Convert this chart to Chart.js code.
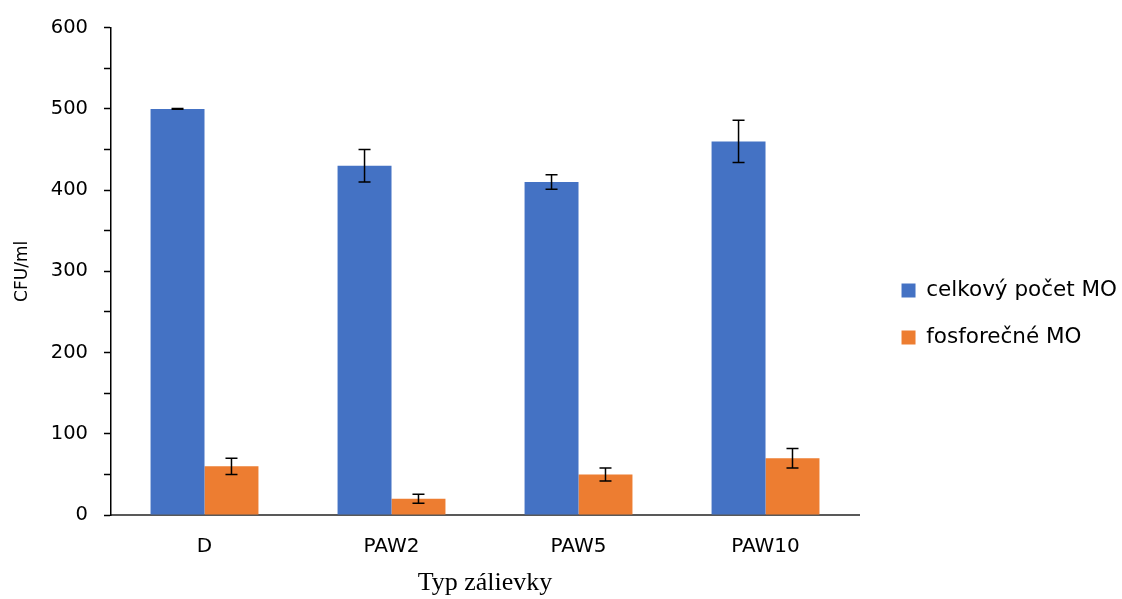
<!DOCTYPE html>
<html>
<head>
<meta charset="utf-8">
<script src="https://cdn.jsdelivr.net/npm/chart.js@4"></script>
<style>
  html, body { margin: 0; padding: 0; background: #fff; }
  #wrap { width: 1122px; height: 599px; }
</style>
</head>
<body>
<div id="wrap"><canvas id="chart" width="1122" height="599"></canvas></div>
<script>
const categories = ['D', 'PAW2', 'PAW5', 'PAW10'];
const totalLabel = 'celkový počet MO';
const totalValues = [500, 430, 410, 460];
const totalErrors = [0.5, 20, 9, 26];
const phosLabel = 'fosforečné MO';
const phosValues = [60, 20, 50, 70];
const phosErrors = [10, 5.5, 8, 12];

Chart.defaults.font.family = 'DejaVu Sans';
Chart.defaults.color = '#000';

// black error bars drawn over each bar
const errorBars = {
    id: 'errorBars',
    afterDatasetsDraw(chart) {
        const { ctx, scales: { y } } = chart;
        ctx.save();
        ctx.strokeStyle = '#000';
        ctx.lineWidth = 1.5;
        chart.data.datasets.forEach((ds, i) => {
            const meta = chart.getDatasetMeta(i);
            meta.data.forEach((bar, j) => {
                const v = ds.data[j], e = ds.errors[j];
                const top = y.getPixelForValue(v + e);
                const bot = y.getPixelForValue(v - e);
                ctx.beginPath();
                ctx.moveTo(bar.x, top); ctx.lineTo(bar.x, bot);
                ctx.moveTo(bar.x - 6, top); ctx.lineTo(bar.x + 6, top);
                ctx.moveTo(bar.x - 6, bot); ctx.lineTo(bar.x + 6, bot);
                ctx.stroke();
            });
        });
        ctx.restore();
    }
};

// nudge the legend away from the plot, like the Excel layout
const legendShift = {
    id: 'legendShift',
    afterLayout(chart) {
        const lg = chart.legend;
        lg.left += 17; lg.right += 17;
        lg.top += 2; lg.bottom += 2;
    }
};

new Chart(document.getElementById('chart').getContext('2d'), {
    type: 'bar',
    data: {
        labels: categories,
        datasets: [
            { label: totalLabel, data: totalValues, errors: totalErrors, backgroundColor: '#4472C4' },
            { label: phosLabel, data: phosValues, errors: phosErrors, backgroundColor: '#ED7D31' }
        ]
    },
    options: {
        responsive: false,
        animation: false,
        layout: { padding: { top: 25, right: 12, bottom: 0, left: 0 } },
        datasets: { bar: { barPercentage: 1, categoryPercentage: 0.577 } },
        plugins: {
            tooltip: { enabled: false },
            legend: {
                position: 'right',
                labels: { boxWidth: 14, boxHeight: 14, padding: 25.5, font: { size: 21.5 }, color: '#000' }
            }
        },
        scales: {
            x: {
                grid: { display: false, drawTicks: false },
                border: { display: true, color: '#595959', width: 2 },
                ticks: { padding: 20, font: { size: 20 } },
                title: {
                    display: true, text: 'Typ zálievky',
                    font: { family: 'Liberation Serif', size: 26 },
                    padding: { top: 0, bottom: 0 }
                },
                afterFit(scale) { scale.height = 84; }
            },
            y: {
                min: 0, max: 600,
                grid: { drawOnChartArea: false, drawTicks: true, tickLength: 7, tickColor: '#000', tickWidth: 1.5 },
                border: { display: true, color: '#000', width: 1.5 },
                ticks: {
                    stepSize: 50, autoSkip: false, padding: 16, font: { size: 19.5 },
                    callback: v => (v % 100 === 0 ? v : '')
                },
                title: {
                    display: true, text: 'CFU/ml',
                    font: { size: 17 },
                    padding: { top: 12, bottom: 0 }
                },
                afterFit(scale) { scale.width = 111; }
            }
        }
    },
    plugins: [errorBars, legendShift]
});
</script>
</body>
</html>
